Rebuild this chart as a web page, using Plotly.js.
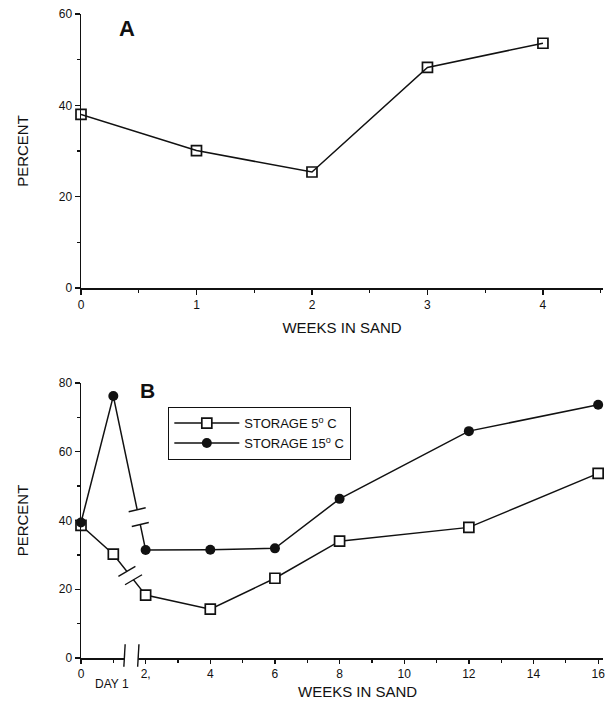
<!DOCTYPE html>
<html>
<head>
<meta charset="utf-8">
<script src="https://cdn.plot.ly/plotly-3.0.1.min.js"></script>
<style>html,body{margin:0;padding:0;background:#fff;}#chart{width:614px;height:705px;}</style>
</head>
<body>
<div id="chart"></div>
<script>
// ---- Panel A data ----
const weeksA = [0, 1, 2, 3, 4];
const percentA = [38.0, 30.1, 25.4, 48.3, 53.6];
const yTicksA = [0, 20, 40, 60];
const xTicksA = [0, 1, 2, 3, 4];

// ---- Panel B data (x = 1 is "DAY 1") ----
const weeksB = [0, 1, 2, 4, 6, 8, 12, 16];
const storage5 = [38.6, 30.2, 18.3, 14.2, 23.2, 34.0, 38.0, 53.7];
const storage15 = [39.4, 76.2, 31.4, 31.5, 31.9, 46.3, 66.0, 73.7];
const yTicksB = [0, 20, 40, 60, 80];
const xTicksB = [0, 2, 4, 6, 8, 10, 12, 14, 16];
const xTickTextB = ['0', '2,', '4', '6', '8', '10', '12', '14', '16'];
const seriesNames = ['STORAGE 5<sup>o</sup> C', 'STORAGE 15<sup>o</sup> C'];

// axis / line break decorations (fraction along segment day1 -> week2)
const axisBreakX = [1.346, 1.773];
const gap5 = [0.42, 0.625];
const gap15 = [0.738, 0.834];

const FONT = 'Liberation Sans, Arial, Helvetica, sans-serif';
const black = '#111';

const traces = [
  {x: weeksA, y: percentA, xaxis: 'x', yaxis: 'y', mode: 'lines+markers', showlegend: false,
   line: {color: black, width: 1.5},
   marker: {symbol: 'square-open', size: 10, color: black, line: {width: 1.7, color: black}},
   cliponaxis: false},
  {x: weeksB, y: storage5, xaxis: 'x2', yaxis: 'y2', mode: 'lines+markers', name: seriesNames[0],
   line: {color: black, width: 1.5},
   marker: {symbol: 'square', size: 10, color: '#fff', line: {width: 1.7, color: black}},
   cliponaxis: false},
  {x: weeksB, y: storage15, xaxis: 'x2', yaxis: 'y2', mode: 'lines+markers', name: seriesNames[1],
   line: {color: black, width: 1.5},
   marker: {symbol: 'circle', size: 10, color: black},
   cliponaxis: false}
];

function lerp(xs, ys, i, t) {
  return [xs[i] + (xs[i + 1] - xs[i]) * t, ys[i] + (ys[i + 1] - ys[i]) * t];
}

const shapes = [];
// gaps in lines + break marks (short strokes crossing the line)
[[storage5, gap5, 5], [storage15, gap15, 2]].forEach(([ys, g, tilt]) => {
  const p0 = lerp(weeksB, ys, 1, g[0]);
  const p1 = lerp(weeksB, ys, 1, g[1]);
  shapes.push({type: 'line', xref: 'x2', yref: 'y2', x0: p0[0], y0: p0[1], x1: p1[0], y1: p1[1],
    line: {color: '#fff', width: 5}, layer: 'above'});
  [p0, p1].forEach(p => {
    shapes.push({type: 'line', xref: 'x2', yref: 'y2', xsizemode: 'pixel', ysizemode: 'pixel',
      xanchor: p[0], yanchor: p[1], x0: -8.5, x1: 8.5, y0: -tilt, y1: tilt,
      line: {color: black, width: 1.4}, layer: 'above'});
  });
});

// axis break on x axis B
shapes.push({type: 'line', xref: 'x2', yref: 'y2 domain', x0: axisBreakX[0], x1: axisBreakX[1], y0: 0, y1: 0,
  line: {color: '#fff', width: 4}, layer: 'above'});
axisBreakX.forEach(bx => {
  shapes.push({type: 'line', xref: 'x2', yref: 'y2 domain', x0: bx + 0.02, x1: bx - 0.02, y0: 0.05, y1: -0.032,
    line: {color: black, width: 1.4}, layer: 'above'});
});

const axisCommon = {
  showline: true, linecolor: black, linewidth: 1.5, showgrid: false, zeroline: false,
  ticks: 'outside', ticklen: 5, tickwidth: 1.3, tickcolor: black,
  tickfont: {family: FONT, size: 12, color: black}, fixedrange: true, automargin: false
};

const layout = {
  width: 614, height: 705,
  margin: {l: 81, r: 11, t: 14, b: 47},
  paper_bgcolor: '#fff', plot_bgcolor: '#fff',
  font: {family: FONT, color: black},
  xaxis: Object.assign({}, axisCommon, {
    domain: [0, 1], anchor: 'y', range: [0, 4.52], tickvals: xTicksA,
    minor: {dtick: 0.5, tick0: 0, ticks: 'outside', ticklen: 3, tickcolor: black},
    title: {text: 'WEEKS IN SAND', font: {size: 15, family: FONT}, standoff: 11}
  }),
  yaxis: Object.assign({}, axisCommon, {
    domain: [0.5745, 1], anchor: 'x', range: [0, 60], tickvals: yTicksA,
    minor: {dtick: 10, tick0: 0, ticks: 'outside', ticklen: 3, tickcolor: black},
    title: {text: 'PERCENT', font: {size: 15, family: FONT}, standoff: 26}
  }),
  xaxis2: Object.assign({}, axisCommon, {
    domain: [0, 1], anchor: 'y2', range: [0, 16.15], tickvals: xTicksB, ticktext: xTickTextB,
    ticklen: 4,
    minor: {dtick: 1, tick0: 0, ticks: 'outside', ticklen: 3, tickcolor: black}
  }),
  yaxis2: Object.assign({}, axisCommon, {
    domain: [0, 0.427], anchor: 'x2', range: [0, 80], tickvals: yTicksB,
    minor: {dtick: 10, tick0: 0, ticks: 'outside', ticklen: 3, tickcolor: black},
    title: {text: 'PERCENT', font: {size: 15, family: FONT}, standoff: 26}
  }),
  showlegend: true,
  legend: {
    x: 0.1667, y: 0.39, xanchor: 'left', yanchor: 'top',
    bordercolor: black, borderwidth: 1.3, bgcolor: '#fff',
    font: {family: FONT, size: 13, color: black}, itemwidth: 65, entrywidth: 128, tracegroupgap: 0
  },
  shapes: shapes,
  annotations: [
    {text: '<b>A</b>', xref: 'paper', yref: 'paper', x: (127 - 81) / 522, y: (658 - 28.5) / 644,
     xanchor: 'center', yanchor: 'middle',
     showarrow: false, font: {size: 22, family: FONT, color: black}},
    {text: '<b>B</b>', xref: 'paper', yref: 'paper', x: (147 - 81) / 522, y: (658 - 390) / 644,
     xanchor: 'center', yanchor: 'middle',
     showarrow: false, font: {size: 21, family: FONT, color: black}},
    {text: 'DAY 1', xref: 'x2', yref: 'paper', x: 0.95, y: -26 / 644, xanchor: 'center', yanchor: 'middle',
     showarrow: false, font: {size: 12, family: FONT, color: black}},
    {text: 'WEEKS IN SAND', xref: 'paper', yref: 'paper', x: (357 - 81) / 522, y: -33 / 644,
     xanchor: 'center', yanchor: 'middle',
     showarrow: false, font: {size: 15, family: FONT, color: black}}
  ]
};

Plotly.newPlot('chart', traces, layout, {staticPlot: true, displayModeBar: false});
</script>
</body>
</html>
